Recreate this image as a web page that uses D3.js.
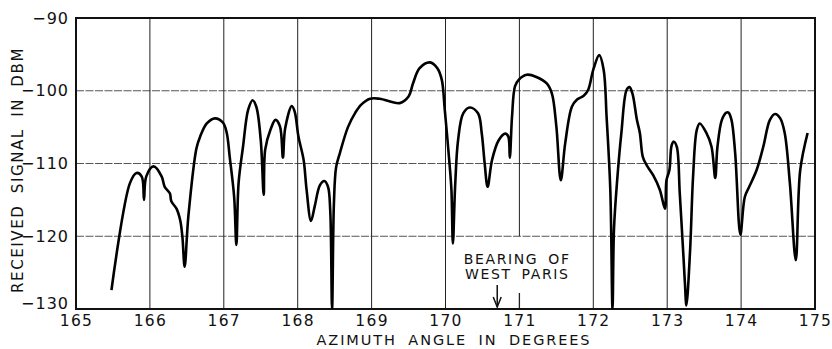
<!DOCTYPE html>
<html><head><meta charset="utf-8">
<script src="https://cdn.jsdelivr.net/npm/d3@7"></script>
<style>
html,body{margin:0;padding:0;background:#fff;}
text{font-family:"DejaVu Sans",sans-serif;fill:#111;}
</style></head>
<body><svg id="c" width="832" height="349"></svg>
<script>
const xTicks=[165,166,167,168,169,170,171,172,173,174,175];
const yTicks=[-90,-100,-110,-120,-130];
const xTitle="AZIMUTH ANGLE IN DEGREES";
const yTitle="RECEIVED SIGNAL IN DBM";
const noteLines=["BEARING OF","WEST PARIS"];
const bearing=170.7;
const azimuth=[165.48,165.73,165.82,165.89,165.92,165.95,166.05,166.16,166.20,166.27,166.29,166.36,166.41,166.44,166.47,166.52,166.63,166.68,166.77,166.88,166.99,167.04,167.08,167.14,167.17,167.20,167.26,167.33,167.39,167.44,167.50,167.54,167.56,167.63,167.70,167.76,167.80,167.83,167.92,167.96,168.01,168.08,168.12,168.18,168.23,168.30,168.36,168.41,168.44,168.465,168.49,168.52,168.57,168.68,168.78,168.86,168.98,169.11,169.38,169.50,169.56,169.65,169.79,169.89,169.95,169.99,170.05,170.08,170.10,170.13,170.17,170.24,170.33,170.44,170.49,170.53,170.57,170.63,170.72,170.81,170.85,170.87,170.90,170.94,170.99,171.10,171.23,171.37,171.44,171.50,171.56,171.62,171.71,171.78,171.87,171.93,172.00,172.08,172.14,172.18,172.23,172.26,172.28,172.32,172.38,172.45,172.49,172.53,172.59,172.63,172.67,172.72,172.81,172.90,172.97,172.99,173.03,173.06,173.09,173.13,173.17,173.22,173.24,173.26,173.31,173.35,173.40,173.44,173.53,173.60,173.65,173.68,173.74,173.80,173.83,173.87,173.92,173.99,174.05,174.11,174.21,174.30,174.39,174.46,174.53,174.59,174.66,174.74,174.80,174.90];
const signal=[-127.4,-112.7,-111.3,-111.8,-115.0,-111.8,-110.4,-111.8,-113.2,-114.1,-115.2,-116.2,-117.8,-120.1,-124.2,-117.3,-107.9,-106.3,-104.5,-103.8,-104.4,-105.8,-109.1,-114.6,-121.2,-112.7,-107.7,-102.6,-101.3,-102.2,-106.8,-114.3,-108.1,-105.4,-104.0,-104.9,-109.2,-105.2,-102.1,-102.9,-106.3,-109.5,-113.6,-117.9,-115.9,-113.0,-112.4,-113.2,-116.4,-130,-115.5,-110.5,-108.6,-105.0,-103.0,-101.9,-101.1,-101.1,-101.7,-100.8,-99.0,-96.9,-96.1,-96.9,-98.5,-102.6,-109.5,-113.6,-121.0,-113.2,-106.8,-103.1,-102.3,-103.1,-105.8,-110.0,-113.2,-109.5,-106.8,-105.9,-106.3,-109.2,-103.6,-99.4,-98.5,-97.8,-98.1,-99.0,-100.4,-104.9,-112.3,-107.2,-102.2,-101.2,-100.7,-99.9,-97.1,-95.1,-97.1,-103.6,-113.6,-130,-119.0,-112.7,-105.8,-99.9,-99.5,-100.4,-104.0,-105.8,-109.1,-110.2,-111.6,-113.6,-116.2,-112.3,-110.9,-107.5,-107.0,-107.7,-114.1,-122.8,-126.5,-129.5,-121.9,-111.8,-105.4,-104.5,-105.8,-107.7,-112.0,-107.7,-104.0,-103.0,-103.0,-104.0,-108.6,-119.8,-114.6,-113.2,-110.9,-107.7,-104.0,-103.2,-103.8,-105.8,-112.7,-123.3,-110.9,-105.8];

const svg=d3.select("#c");
const L=76,R=815,T=18,B=309;
const x=d3.scaleLinear().domain([165,175]).range([L,R]);
const y=d3.scaleLinear().domain([-130,-90]).range([B,T]);

// horizontal grid
svg.append("g").selectAll("line").data(yTicks.filter(v=>v>-130&&v<-90)).join("line")
 .attr("x1",L).attr("x2",R).attr("y1",d=>y(d)).attr("y2",d=>y(d))
 .attr("stroke","#555").attr("stroke-width",1).attr("stroke-dasharray","8,1.5");
// vertical grid
const gapTop=-120, gapBot=-127.8;
const vg=svg.append("g");
xTicks.filter(v=>v>165&&v<175).forEach(v=>{
  if(v===171){
    vg.append("line").attr("x1",x(v)).attr("x2",x(v)).attr("y1",T).attr("y2",y(gapTop)).attr("stroke","#222").attr("stroke-width",1);
    vg.append("line").attr("x1",x(v)).attr("x2",x(v)).attr("y1",y(gapBot)).attr("y2",B).attr("stroke","#222").attr("stroke-width",1.3);
  } else {
    vg.append("line").attr("x1",x(v)).attr("x2",x(v)).attr("y1",T).attr("y2",B).attr("stroke","#222").attr("stroke-width",1);
  }
});
// frame
svg.append("rect").attr("x",L).attr("y",T).attr("width",R-L).attr("height",B-T)
 .attr("fill","none").attr("stroke","#111").attr("stroke-width",2);

// axes
const xa=svg.append("g").attr("transform",`translate(0,${B})`)
 .call(d3.axisBottom(x).tickValues(xTicks).tickSize(0).tickPadding(6).tickFormat(d3.format("d")));
xa.select(".domain").remove();
xa.selectAll("text").attr("font-size",15.5).attr("letter-spacing","1.3px").style("font-family","DejaVu Sans");
const ya=svg.append("g").attr("transform",`translate(${L},0)`)
 .call(d3.axisLeft(y).tickValues(yTicks).tickSize(0).tickPadding(7).tickFormat(d=>"\u2212"+Math.abs(d)));
ya.select(".domain").remove();
ya.selectAll("text").attr("font-size",16).attr("letter-spacing","1px").style("font-family","DejaVu Sans")
 .attr("dy",d=>d===-130?"-0.05em":"0.32em");

// titles
svg.append("text").attr("x",454).attr("y",345).attr("text-anchor","middle")
 .attr("font-size",14.5).attr("letter-spacing","1.9px").attr("word-spacing","5px").text(xTitle);
svg.append("text").attr("transform",`translate(23,${170}) rotate(-90)`).attr("text-anchor","middle")
 .attr("font-size",15).attr("letter-spacing","1.6px").attr("word-spacing","5px").text(yTitle);

// annotation
svg.append("g").selectAll("text").data(noteLines).join("text")
 .attr("x",x(bearing)+20).attr("y",(d,i)=>264+i*15).attr("text-anchor","middle")
 .attr("font-size",14).attr("letter-spacing","1.6px").attr("word-spacing","4px").text(d=>d);
const ax=x(bearing);
svg.append("line").attr("x1",ax).attr("x2",ax).attr("y1",285).attr("y2",307).attr("stroke","#111").attr("stroke-width",1.5);
svg.append("path").attr("d",`M${ax-4},${297}L${ax},${307}L${ax+4},${297}`).attr("fill","none").attr("stroke","#111").attr("stroke-width",1.5);

// curve
const pts=azimuth.map((a,i)=>[a,signal[i]]);
svg.append("defs").append("clipPath").attr("id","clip").append("rect").attr("x",L).attr("y",T).attr("width",R-L).attr("height",B-T);
svg.append("path").datum(pts).attr("clip-path","url(#clip)")
 .attr("d",d3.line().x(d=>x(d[0])).y(d=>y(d[1])).curve(d3.curveCatmullRom.alpha(0.5)))
 .attr("fill","none").attr("stroke","#000").attr("stroke-width",2.6).attr("stroke-linejoin","round");
</script></body></html>
